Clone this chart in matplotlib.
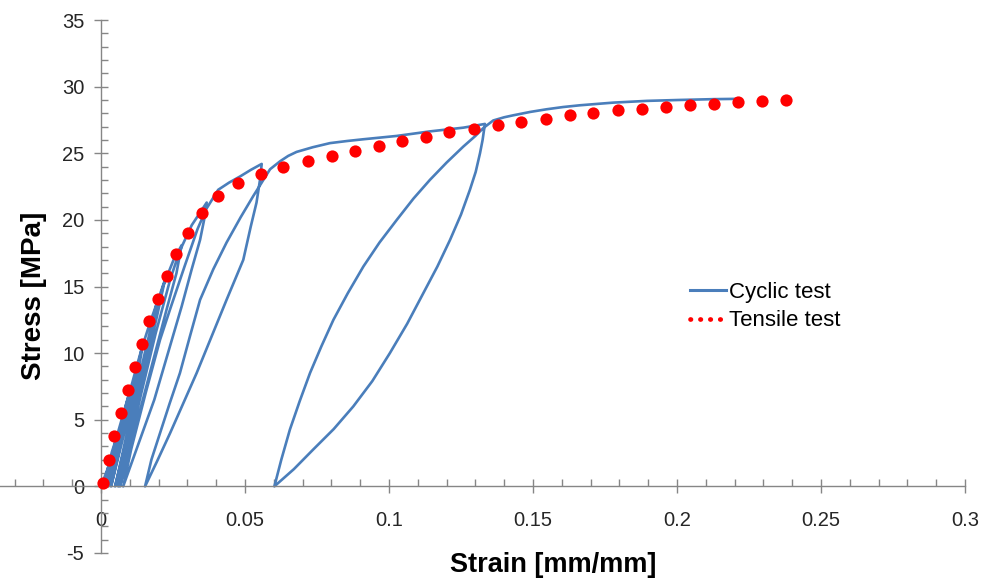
import matplotlib
matplotlib.use("Agg")
import matplotlib.pyplot as plt
from matplotlib.ticker import MultipleLocator, FixedLocator, FixedFormatter
from matplotlib.lines import Line2D

plt.rcParams['font.family'] = ['Liberation Sans', 'DejaVu Sans']

# ---- data ----
tens_strain = [0.0008, 0.0028, 0.0046, 0.0069, 0.0095, 0.0118, 0.0141, 0.0168, 0.0197, 0.0228,
               0.026, 0.0301, 0.035, 0.0407, 0.0477, 0.0556, 0.0633, 0.0718, 0.0801, 0.0882,
               0.0965, 0.1046, 0.113, 0.121, 0.1294, 0.1377, 0.146, 0.1544, 0.1627, 0.171,
               0.1794, 0.1877, 0.1961, 0.2044, 0.2128, 0.2213, 0.2296, 0.238]
tens_stress = [0.28, 2.0, 3.77, 5.47, 7.27, 8.95, 10.7, 12.4, 14.07, 15.77,
               17.45, 19.0, 20.5, 21.76, 22.76, 23.46, 23.96, 24.39, 24.76, 25.14,
               25.51, 25.89, 26.19, 26.56, 26.81, 27.09, 27.36, 27.59, 27.84, 28.04,
               28.21, 28.34, 28.49, 28.61, 28.71, 28.81, 28.91, 28.99]

cyc_strain = [0, 0.0035, 0.0055, 0.0045, 0.0028, 0.0012, 0.0022, 0.0038, 0.0053,
              0.0078, 0.0102, 0.0088, 0.0062, 0.0025, 0.0042, 0.0066, 0.0088, 0.0100,
              0.0124, 0.0146, 0.0128, 0.0092, 0.0035, 0.0056, 0.0088, 0.0118, 0.0142,
              0.0172, 0.0198, 0.0178, 0.0128, 0.0049, 0.0072, 0.011, 0.0152, 0.0192,
              0.0222, 0.0205, 0.015, 0.006, 0.0085, 0.0125, 0.017, 0.0215,
              0.0252, 0.028, 0.0262, 0.0228, 0.0145, 0.0066, 0.0095, 0.014, 0.019, 0.024, 0.0272,
              0.0315, 0.0367, 0.0358, 0.0344, 0.0315, 0.028, 0.0185, 0.0077,
              0.0105, 0.0155, 0.0205, 0.024, 0.029, 0.0335, 0.0365,
              0.0407, 0.0445, 0.0483, 0.052, 0.0558,
              0.0552, 0.054, 0.052, 0.0494, 0.0436, 0.0385, 0.0332, 0.0285, 0.024, 0.0195, 0.0153,
              0.0175, 0.0205, 0.0238, 0.0274, 0.0308, 0.0344, 0.039, 0.0436, 0.0485, 0.0529,
              0.0558, 0.0587, 0.0622, 0.065, 0.0679, 0.0735, 0.0795, 0.0855, 0.0911,
              0.1027, 0.1142, 0.1258, 0.1333,
              0.1325, 0.1316, 0.1301, 0.1281, 0.125, 0.1212, 0.1168, 0.1119, 0.1063,
              0.1003, 0.0942, 0.0876, 0.0808, 0.0737, 0.067, 0.0602,
              0.0626, 0.0656, 0.069, 0.0726, 0.0765, 0.0807, 0.0857, 0.0911, 0.0967,
              0.1027, 0.1085, 0.1142, 0.12, 0.1258, 0.13, 0.1328,
              0.1362, 0.14, 0.1432, 0.149, 0.1547, 0.1605, 0.1663, 0.1779, 0.1895,
              0.201, 0.2126, 0.2201]
cyc_stress = [0, 2.0, 3.8, 2.5, 1.0, 0, 1.2, 2.6, 3.6,
              5.5, 7.3, 5.5, 3.0, 0, 1.8, 4.2, 6.2, 7.1,
              9.0, 10.7, 8.5, 5.0, 0, 2.0, 5.0, 8.0, 10.4,
              12.4, 14.0, 11.8, 7.0, 0, 2.2, 6.0, 10.0, 13.6,
              15.5, 13.8, 8.5, 0, 2.5, 6.5, 11.0, 15.0,
              17.0, 18.1, 16.0, 13.3, 6.5, 0, 2.8, 7.0, 11.5, 15.5, 17.6,
              19.6, 21.3, 20.0, 18.5, 16.3, 13.5, 6.5, 0,
              2.8, 7.0, 11.0, 13.3, 16.5, 19.3, 20.8,
              22.26, 22.8, 23.26, 23.75, 24.2,
              23.0, 21.3, 19.5, 17.0, 14.0, 11.3, 8.5, 6.2, 4.0, 1.9, 0,
              2.0, 4.0, 6.2, 8.5, 11.2, 14.0, 16.3, 18.3, 20.2, 21.8,
              22.8, 23.8, 24.4, 24.8, 25.1, 25.45, 25.76, 25.92, 26.05,
              26.3, 26.64, 26.92, 27.2,
              26.0, 25.0, 23.6, 22.26, 20.4, 18.5, 16.5, 14.5, 12.2,
              10.0, 7.9, 6.0, 4.3, 2.77, 1.3, 0,
              2.0, 4.27, 6.4, 8.52, 10.5, 12.5, 14.5, 16.5, 18.3,
              20.0, 21.6, 23.0, 24.3, 25.5, 26.3, 26.9,
              27.46, 27.7, 27.85, 28.1, 28.3, 28.47, 28.6, 28.8, 28.93,
              29.0, 29.06, 29.08]

x_ticks = [0, 0.05, 0.1, 0.15, 0.2, 0.25, 0.3]
x_tick_labels = ['0', '0.05', '0.1', '0.15', '0.2', '0.25', '0.3']
y_ticks = [-5, 0, 5, 10, 15, 20, 25, 30, 35]
y_tick_labels = ['-5', '0', '5', '10', '15', '20', '25', '30', '35']
series_labels = ['Cyclic test', 'Tensile test']
x_label = 'Strain [mm/mm]'
y_label = 'Stress [MPa]'

# ---- figure ----
W, H = 983, 579
fig = plt.figure(figsize=(W / 100, H / 100), dpi=100)
ax = fig.add_axes([0, 1 - 553 / H, 965 / W, (553 - 20) / H])

blue = '#4A7EBB'
red = '#FF0000'
grey = '#868686'

ax.plot(cyc_strain, cyc_stress, color=blue, linewidth=1.9, solid_joinstyle='round', zorder=2)
ax.plot(tens_strain, tens_stress, 'o', color=red, markersize=8.8, markeredgewidth=0, zorder=3)

ax.set_xlim(-101 / 2880, 0.3)
ax.set_ylim(-5, 35)

for s in ['top', 'right']:
    ax.spines[s].set_visible(False)
ax.spines['left'].set_position(('data', 0))
ax.spines['bottom'].set_position(('data', 0))
for s in ['left', 'bottom']:
    ax.spines[s].set_color(grey)
    ax.spines[s].set_linewidth(1.0)

ax.xaxis.set_major_locator(FixedLocator(x_ticks))
ax.xaxis.set_major_formatter(FixedFormatter(x_tick_labels))
ax.xaxis.set_minor_locator(MultipleLocator(0.01))
ax.yaxis.set_major_locator(FixedLocator(y_ticks))
ax.yaxis.set_major_formatter(FixedFormatter(y_tick_labels))
ax.yaxis.set_minor_locator(MultipleLocator(1))

ax.tick_params(which='major', direction='inout', length=10, width=1, color=grey,
               labelsize=14.5, labelcolor='#262626')
ax.tick_params(which='minor', direction='in', length=5, width=1, color=grey)
ax.tick_params(axis='x', which='major', pad=13)
ax.tick_params(axis='y', which='major', pad=7)

fig.text(34 / W, 1 - 296 / H, y_label, rotation=90, ha='center', va='center',
         fontsize=20, fontweight='bold', color='black')
fig.text(553 / W, 1 - 565 / H, x_label, ha='center', va='center',
         fontsize=19.5, fontweight='bold', color='black')

handles = [Line2D([], [], color=blue, linewidth=2.2),
           Line2D([], [], color=red, linewidth=3.4, linestyle=(0, (0.1, 2.0)),
                  dash_capstyle='round')]
ax.legend(handles, series_labels, loc='upper left', bbox_to_anchor=(690 / W, 1 - 282 / H),
          bbox_transform=fig.transFigure, frameon=False, fontsize=16,
          handlelength=1.6, handletextpad=0.15, labelspacing=0.33,
          borderpad=0, borderaxespad=0)

fig.savefig('out.png', dpi=100, facecolor='white')
